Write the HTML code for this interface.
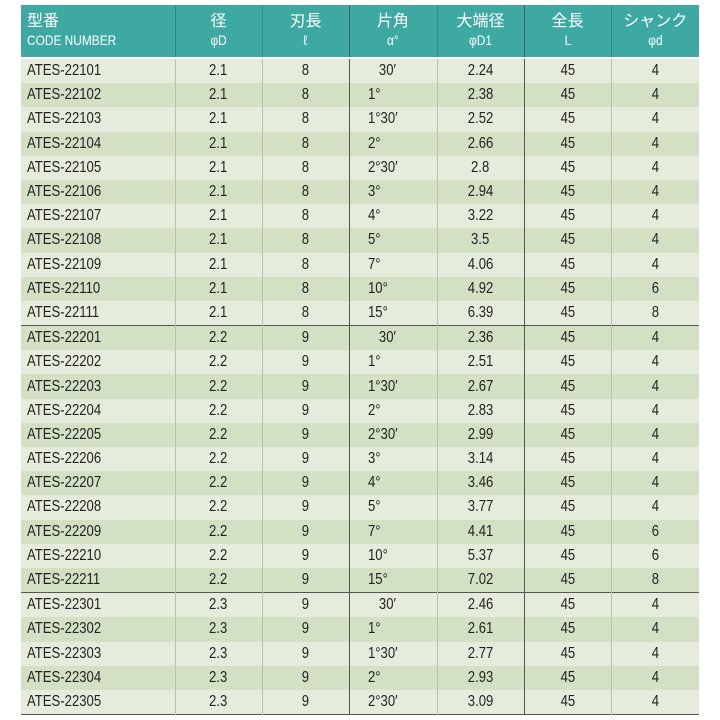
<!DOCTYPE html>
<html><head><meta charset="utf-8"><style>
body{margin:0;width:720px;height:720px;background:#fff;position:relative;overflow:hidden;font-family:"Liberation Sans","Noto Sans CJK JP",sans-serif;}
table{position:absolute;left:21px;top:5px;border-collapse:collapse;table-layout:fixed;width:678px;}
th{background:#3ea8a3;color:#fff;font-weight:normal;height:52px;padding:0;vertical-align:middle;border-left:1px solid #2f8a85;font-size:16px;line-height:18px;}
th:first-child{border-left:none;text-align:left;padding-left:6px;}
th .s{font-size:14px;display:inline-block;transform:scaleX(0.85);}
th span.n{transform-origin:left;}
td{height:24.2px;padding:0;font-size:16px;color:#222;text-align:center;border-left:1px solid #b9c0ad;}
td span{display:inline-block;transform:scaleX(0.82);}
td:first-child{text-align:left;padding-left:6px;border-left:none;}
td:first-child span{transform-origin:left;}
td.a{text-align:left;padding-left:18px;}
td.a span{transform-origin:left;}
td.dk,th.dk{border-left:1px solid #555;}
tr:nth-child(odd) td{background:#e6ecdc;}
tr:nth-child(even) td{background:#d3e0c4;}
tr.sep td{border-top:1px solid #555;}
tbody tr:first-child td{border-top:2px solid #fff;}
tbody{border-bottom:1px solid #555;}
</style></head><body>
<table>
<colgroup><col style="width:154px"><col style="width:87px"><col style="width:87px"><col style="width:88px"><col style="width:87px"><col style="width:87px"><col style="width:88px"></colgroup>
<thead><tr>
<th>型番<br><span class="s n">CODE NUMBER</span></th>
<th>径<br><span class="s">φD</span></th>
<th>刃長<br><span class="s">ℓ</span></th>
<th class="dk">片角<br><span class="s">α°</span></th>
<th>大端径<br><span class="s">φD1</span></th>
<th class="dk">全長<br><span class="s">L</span></th>
<th>シャンク<br><span class="s">φd</span></th>
</tr></thead>
<tbody>
<tr><td><span>ATES-22101</span></td><td><span>2.1</span></td><td><span>8</span></td><td class="a dk"><span>&nbsp;&nbsp;&nbsp;30′</span></td><td><span>2.24</span></td><td class="dk"><span>45</span></td><td><span>4</span></td></tr>
<tr><td><span>ATES-22102</span></td><td><span>2.1</span></td><td><span>8</span></td><td class="a dk"><span>1°</span></td><td><span>2.38</span></td><td class="dk"><span>45</span></td><td><span>4</span></td></tr>
<tr><td><span>ATES-22103</span></td><td><span>2.1</span></td><td><span>8</span></td><td class="a dk"><span>1°30′</span></td><td><span>2.52</span></td><td class="dk"><span>45</span></td><td><span>4</span></td></tr>
<tr><td><span>ATES-22104</span></td><td><span>2.1</span></td><td><span>8</span></td><td class="a dk"><span>2°</span></td><td><span>2.66</span></td><td class="dk"><span>45</span></td><td><span>4</span></td></tr>
<tr><td><span>ATES-22105</span></td><td><span>2.1</span></td><td><span>8</span></td><td class="a dk"><span>2°30′</span></td><td><span>2.8</span></td><td class="dk"><span>45</span></td><td><span>4</span></td></tr>
<tr><td><span>ATES-22106</span></td><td><span>2.1</span></td><td><span>8</span></td><td class="a dk"><span>3°</span></td><td><span>2.94</span></td><td class="dk"><span>45</span></td><td><span>4</span></td></tr>
<tr><td><span>ATES-22107</span></td><td><span>2.1</span></td><td><span>8</span></td><td class="a dk"><span>4°</span></td><td><span>3.22</span></td><td class="dk"><span>45</span></td><td><span>4</span></td></tr>
<tr><td><span>ATES-22108</span></td><td><span>2.1</span></td><td><span>8</span></td><td class="a dk"><span>5°</span></td><td><span>3.5</span></td><td class="dk"><span>45</span></td><td><span>4</span></td></tr>
<tr><td><span>ATES-22109</span></td><td><span>2.1</span></td><td><span>8</span></td><td class="a dk"><span>7°</span></td><td><span>4.06</span></td><td class="dk"><span>45</span></td><td><span>4</span></td></tr>
<tr><td><span>ATES-22110</span></td><td><span>2.1</span></td><td><span>8</span></td><td class="a dk"><span>10°</span></td><td><span>4.92</span></td><td class="dk"><span>45</span></td><td><span>6</span></td></tr>
<tr><td><span>ATES-22111</span></td><td><span>2.1</span></td><td><span>8</span></td><td class="a dk"><span>15°</span></td><td><span>6.39</span></td><td class="dk"><span>45</span></td><td><span>8</span></td></tr>
<tr class="sep"><td><span>ATES-22201</span></td><td><span>2.2</span></td><td><span>9</span></td><td class="a dk"><span>&nbsp;&nbsp;&nbsp;30′</span></td><td><span>2.36</span></td><td class="dk"><span>45</span></td><td><span>4</span></td></tr>
<tr><td><span>ATES-22202</span></td><td><span>2.2</span></td><td><span>9</span></td><td class="a dk"><span>1°</span></td><td><span>2.51</span></td><td class="dk"><span>45</span></td><td><span>4</span></td></tr>
<tr><td><span>ATES-22203</span></td><td><span>2.2</span></td><td><span>9</span></td><td class="a dk"><span>1°30′</span></td><td><span>2.67</span></td><td class="dk"><span>45</span></td><td><span>4</span></td></tr>
<tr><td><span>ATES-22204</span></td><td><span>2.2</span></td><td><span>9</span></td><td class="a dk"><span>2°</span></td><td><span>2.83</span></td><td class="dk"><span>45</span></td><td><span>4</span></td></tr>
<tr><td><span>ATES-22205</span></td><td><span>2.2</span></td><td><span>9</span></td><td class="a dk"><span>2°30′</span></td><td><span>2.99</span></td><td class="dk"><span>45</span></td><td><span>4</span></td></tr>
<tr><td><span>ATES-22206</span></td><td><span>2.2</span></td><td><span>9</span></td><td class="a dk"><span>3°</span></td><td><span>3.14</span></td><td class="dk"><span>45</span></td><td><span>4</span></td></tr>
<tr><td><span>ATES-22207</span></td><td><span>2.2</span></td><td><span>9</span></td><td class="a dk"><span>4°</span></td><td><span>3.46</span></td><td class="dk"><span>45</span></td><td><span>4</span></td></tr>
<tr><td><span>ATES-22208</span></td><td><span>2.2</span></td><td><span>9</span></td><td class="a dk"><span>5°</span></td><td><span>3.77</span></td><td class="dk"><span>45</span></td><td><span>4</span></td></tr>
<tr><td><span>ATES-22209</span></td><td><span>2.2</span></td><td><span>9</span></td><td class="a dk"><span>7°</span></td><td><span>4.41</span></td><td class="dk"><span>45</span></td><td><span>6</span></td></tr>
<tr><td><span>ATES-22210</span></td><td><span>2.2</span></td><td><span>9</span></td><td class="a dk"><span>10°</span></td><td><span>5.37</span></td><td class="dk"><span>45</span></td><td><span>6</span></td></tr>
<tr><td><span>ATES-22211</span></td><td><span>2.2</span></td><td><span>9</span></td><td class="a dk"><span>15°</span></td><td><span>7.02</span></td><td class="dk"><span>45</span></td><td><span>8</span></td></tr>
<tr class="sep"><td><span>ATES-22301</span></td><td><span>2.3</span></td><td><span>9</span></td><td class="a dk"><span>&nbsp;&nbsp;&nbsp;30′</span></td><td><span>2.46</span></td><td class="dk"><span>45</span></td><td><span>4</span></td></tr>
<tr><td><span>ATES-22302</span></td><td><span>2.3</span></td><td><span>9</span></td><td class="a dk"><span>1°</span></td><td><span>2.61</span></td><td class="dk"><span>45</span></td><td><span>4</span></td></tr>
<tr><td><span>ATES-22303</span></td><td><span>2.3</span></td><td><span>9</span></td><td class="a dk"><span>1°30′</span></td><td><span>2.77</span></td><td class="dk"><span>45</span></td><td><span>4</span></td></tr>
<tr><td><span>ATES-22304</span></td><td><span>2.3</span></td><td><span>9</span></td><td class="a dk"><span>2°</span></td><td><span>2.93</span></td><td class="dk"><span>45</span></td><td><span>4</span></td></tr>
<tr><td><span>ATES-22305</span></td><td><span>2.3</span></td><td><span>9</span></td><td class="a dk"><span>2°30′</span></td><td><span>3.09</span></td><td class="dk"><span>45</span></td><td><span>4</span></td></tr>
</tbody></table>
</body></html>
